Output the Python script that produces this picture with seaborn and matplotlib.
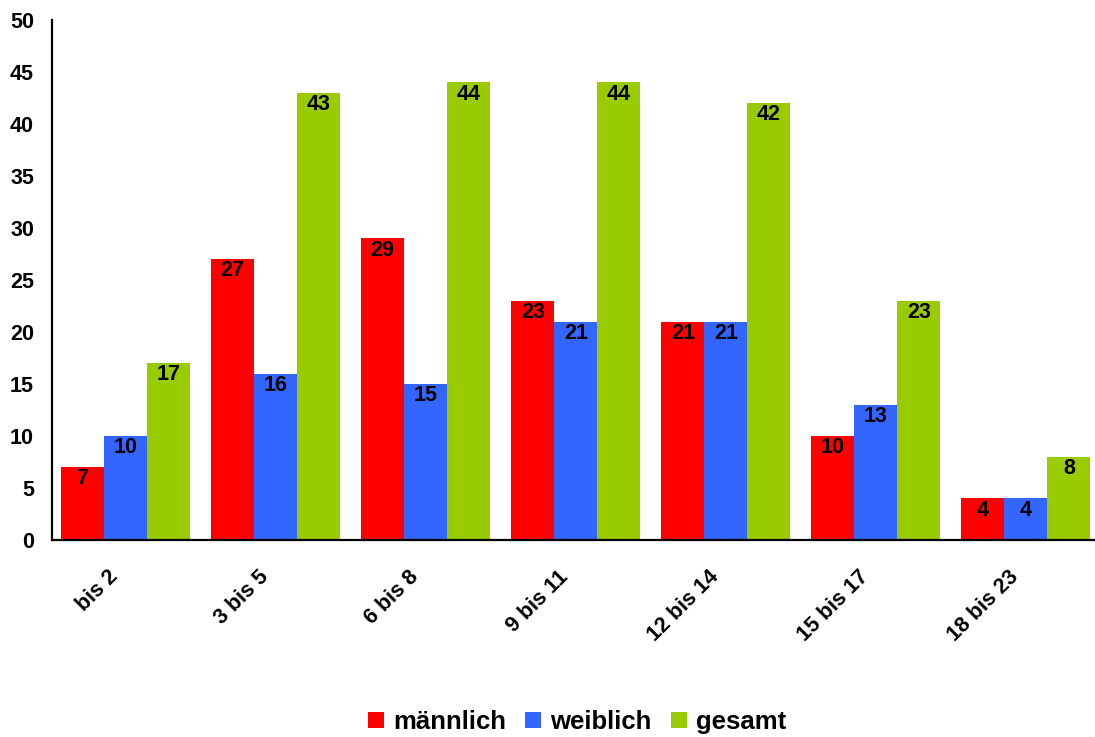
import matplotlib
matplotlib.use("Agg")
import matplotlib.pyplot as plt
import matplotlib.transforms as mtransforms
import seaborn as sns
import pandas as pd
from matplotlib.patches import Patch

# Altersgruppen und Anzahlen
categories = ["bis 2", "3 bis 5", "6 bis 8", "9 bis 11", "12 bis 14", "15 bis 17", "18 bis 23"]
maennlich = [7, 27, 29, 23, 21, 10, 4]
weiblich = [10, 16, 15, 21, 21, 13, 4]
gesamt = [17, 43, 44, 44, 42, 23, 8]
series_names = ["männlich", "weiblich", "gesamt"]
colors = ["#FF0000", "#3366FF", "#99CC00"]
y_ticks = list(range(0, 51, 5))

df = pd.DataFrame({
    "Alter": categories * 3,
    "Gruppe": [s for s in series_names for _ in categories],
    "Anzahl": maennlich + weiblich + gesamt,
})

sns.set_style("white")
plt.rcParams["font.family"] = ["Liberation Sans", "DejaVu Sans"]
plt.rcParams["font.weight"] = "bold"
plt.rcParams["text.color"] = "black"
plt.rcParams["xtick.color"] = "black"
plt.rcParams["ytick.color"] = "black"

fig = plt.figure(figsize=(10.95, 7.37), dpi=100)
ax = fig.add_axes([52 / 1095, 1 - 540 / 737, 1 - 52 / 1095, (540 - 20) / 737])

sns.barplot(data=df, x="Alter", y="Anzahl", hue="Gruppe", order=categories,
            hue_order=series_names, palette=colors, width=0.86,
            saturation=1, edgecolor="none", linewidth=0, ax=ax, legend=False)

# Werte oben in den Balken
for container in ax.containers:
    ax.bar_label(container, labels=[f"{v:g}" for v in container.datavalues],
                 padding=-16, fontsize=15.5, fontweight="bold", color="black")

ax.set_ylim(0, 50)
ax.set_xlim(-0.49, 6.46)
ax.set_yticks(y_ticks)
ax.set_yticklabels([str(t) for t in y_ticks], fontsize=15.5, fontweight="bold")
ax.set_xlabel("")
ax.set_ylabel("")
ax.tick_params(axis="both", length=0)
ax.tick_params(axis="y", pad=13)
ax.tick_params(axis="x", pad=14)

shift = mtransforms.ScaledTranslation(-18 / 100, -7 / 100, fig.dpi_scale_trans)
for lbl in ax.get_xticklabels():
    lbl.set_rotation(45)
    lbl.set_ha("right")
    lbl.set_va("top")
    lbl.set_rotation_mode("anchor")
    lbl.set_fontsize(15.5)
    lbl.set_fontweight("bold")
    lbl.set_transform(lbl.get_transform() + shift)

for side in ["top", "right"]:
    ax.spines[side].set_visible(False)
for side in ["left", "bottom"]:
    ax.spines[side].set_color("black")
    ax.spines[side].set_linewidth(1.6)

handles = [Patch(facecolor=c, edgecolor="none") for c in colors]
fig.legend(handles, series_names, loc="center", bbox_to_anchor=(577 / 1095, 1 - 722 / 737),
           ncol=3, frameon=False, handlelength=0.62, handleheight=0.62,
           handletextpad=0.35, columnspacing=0.75, borderpad=0,
           prop={"size": 18.5, "weight": "bold"})

fig.savefig("out.png", dpi=100)
